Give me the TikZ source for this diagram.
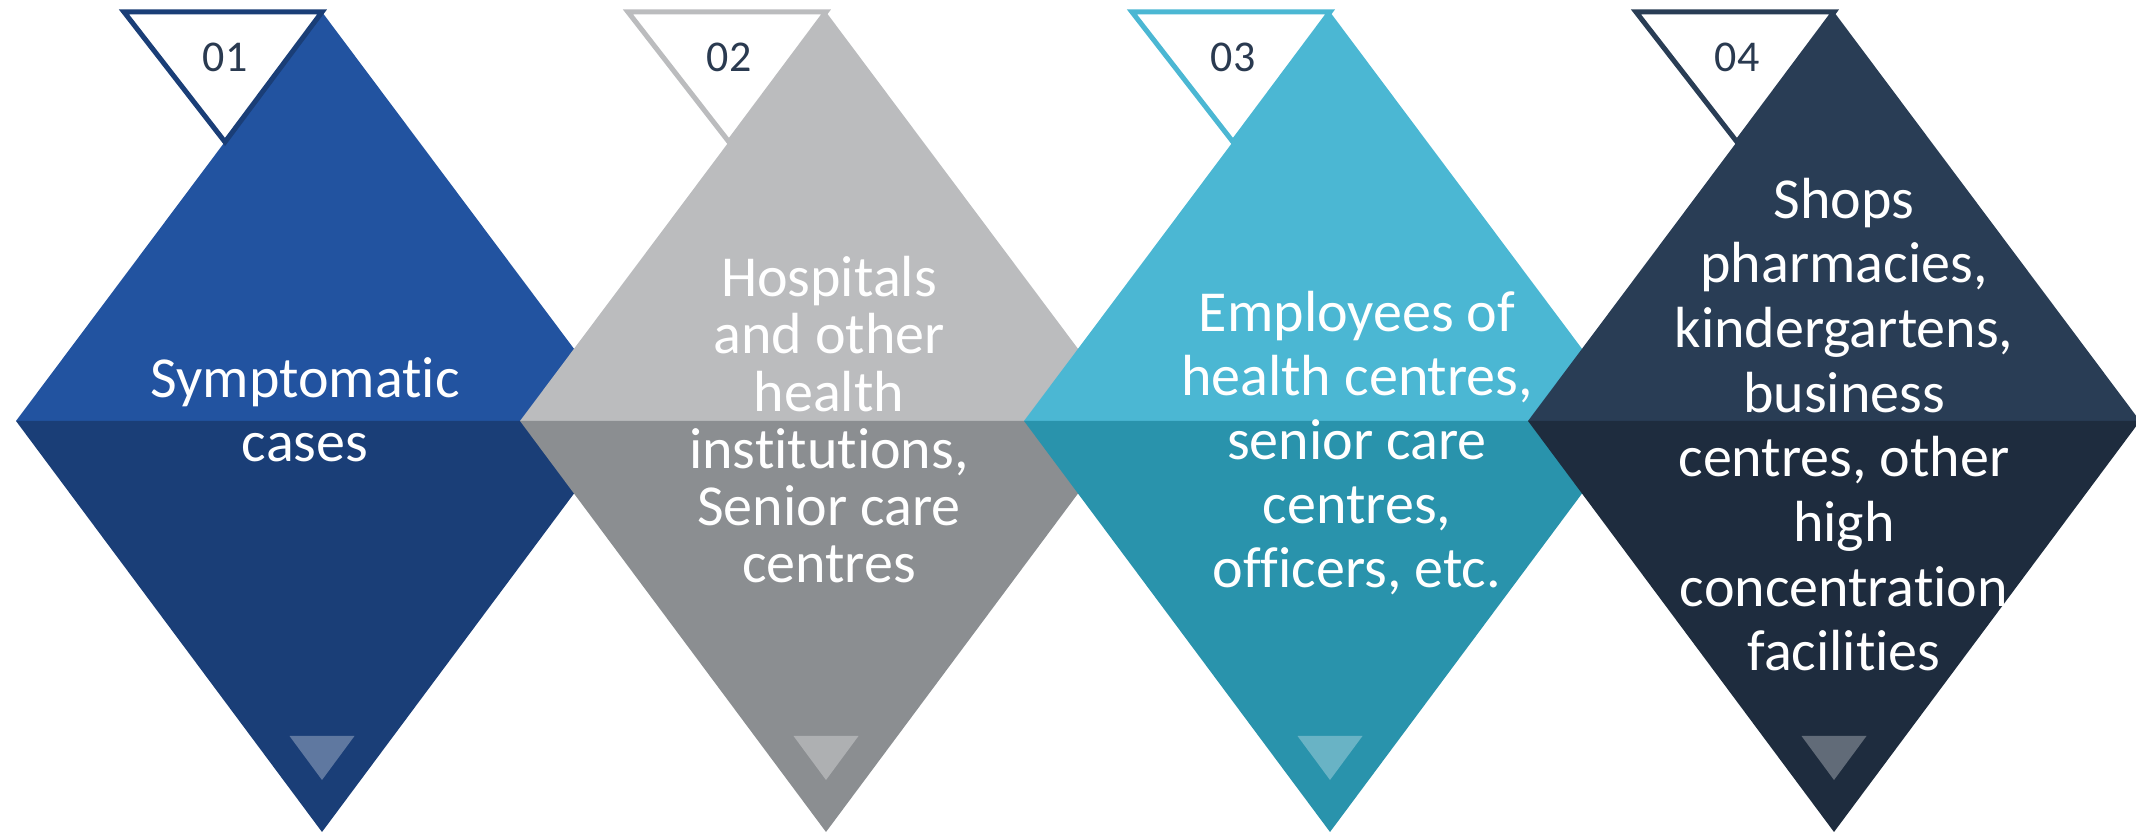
\documentclass[tikz,border=0pt]{standalone}
\usepackage{fontspec}
\setmainfont{Carlito}[Ligatures=NoCommon]

\definecolor{blueTop}{HTML}{2253A0}
\definecolor{blueLow}{HTML}{1A3E77}
\definecolor{greyTop}{HTML}{BBBCBE}
\definecolor{greyLow}{HTML}{8B8E91}
\definecolor{cyanTop}{HTML}{4BB7D3}
\definecolor{cyanLow}{HTML}{2993AC}
\definecolor{navyTop}{HTML}{293D55}
\definecolor{navyLow}{HTML}{1E2C3E}
\definecolor{numText}{HTML}{2A3A50}

\tikzset{
  tag/.style={line width=0.05cm, fill=white, line join=miter},
  num/.style={text=numText, font=\fontsize{12.5}{14}\selectfont},
  caption/.style={text=white, align=center, anchor=base},
  notch/.style={fill=white, fill opacity=0.3}
}

\begin{document}
\begin{tikzpicture}[x=0.01cm, y=0.01cm]
  \useasboundingbox (0,0) rectangle (2136,834);

  % First diamond
  \coordinate (A1) at (322,822);
  \coordinate (L1) at (16,413);
  \coordinate (R1) at (628,413);
  \coordinate (D1) at (322,2);
  \fill [blueTop] (A1) -- (L1) -- (R1) -- cycle;
  \fill [blueLow] (L1) -- (R1) -- (D1) -- cycle;
  \draw [tag, draw=blueLow] (124,822) -- (A1) -- (225,692) -- cycle;
  \node [num] (n1) at (225,777) {01};
  \fill [notch] (289.5,98) -- (354.5,98) -- (322,54) -- cycle;
  \node [caption, font=\fontsize{16.5}{18.2}\selectfont] (t1) at (305,372)
    {Symptomatic\\cases};

  % Second diamond
  \coordinate (A2) at (826,822);
  \coordinate (L2) at (520,413);
  \coordinate (R2) at (1132,413);
  \coordinate (D2) at (826,2);
  \fill [greyTop] (A2) -- (L2) -- (R2) -- cycle;
  \fill [greyLow] (L2) -- (R2) -- (D2) -- cycle;
  \draw [tag, draw=greyTop] (628,822) -- (A2) -- (729,692) -- cycle;
  \node [num] (n2) at (729,777) {02};
  \fill [notch] (793.5,98) -- (858.5,98) -- (826,54) -- cycle;
  \node [caption, font=\fontsize{16.5}{16.3}\selectfont] (t2) at (829,251)
    {Hospitals\\and other\\health\\institutions,\\Senior care\\centres};

  % Third diamond
  \coordinate (A3) at (1330,822);
  \coordinate (L3) at (1024,413);
  \coordinate (R3) at (1636,413);
  \coordinate (D3) at (1330,2);
  \fill [cyanTop] (A3) -- (L3) -- (R3) -- cycle;
  \fill [cyanLow] (L3) -- (R3) -- (D3) -- cycle;
  \draw [tag, draw=cyanTop] (1132,822) -- (A3) -- (1233,692) -- cycle;
  \node [num] (n3) at (1233,777) {03};
  \fill [notch] (1297.5,98) -- (1362.5,98) -- (1330,54) -- cycle;
  \node [caption, font=\fontsize{16.5}{18.2}\selectfont] (t3) at (1357,246)
    {Employees of\\health centres,\\senior care\\centres,\\officers, etc.};

  % Fourth diamond
  \coordinate (A4) at (1834,822);
  \coordinate (L4) at (1528,413);
  \coordinate (R4) at (2140,413);
  \coordinate (D4) at (1834,2);
  \fill [navyTop] (A4) -- (L4) -- (R4) -- cycle;
  \fill [navyLow] (L4) -- (R4) -- (D4) -- cycle;
  \draw [tag, draw=navyTop] (1636,822) -- (A4) -- (1737,692) -- cycle;
  \node [num] (n4) at (1737,777) {04};
  \fill [notch] (1801.5,98) -- (1866.5,98) -- (1834,54) -- cycle;
  \node [caption, font=\fontsize{16.5}{18.4}\selectfont] (t4) at (1844,163)
    {Shops\\pharmacies,\\kindergartens,\\business\\centres, other\\high\\concentration\\facilities};

\end{tikzpicture}
\end{document}
